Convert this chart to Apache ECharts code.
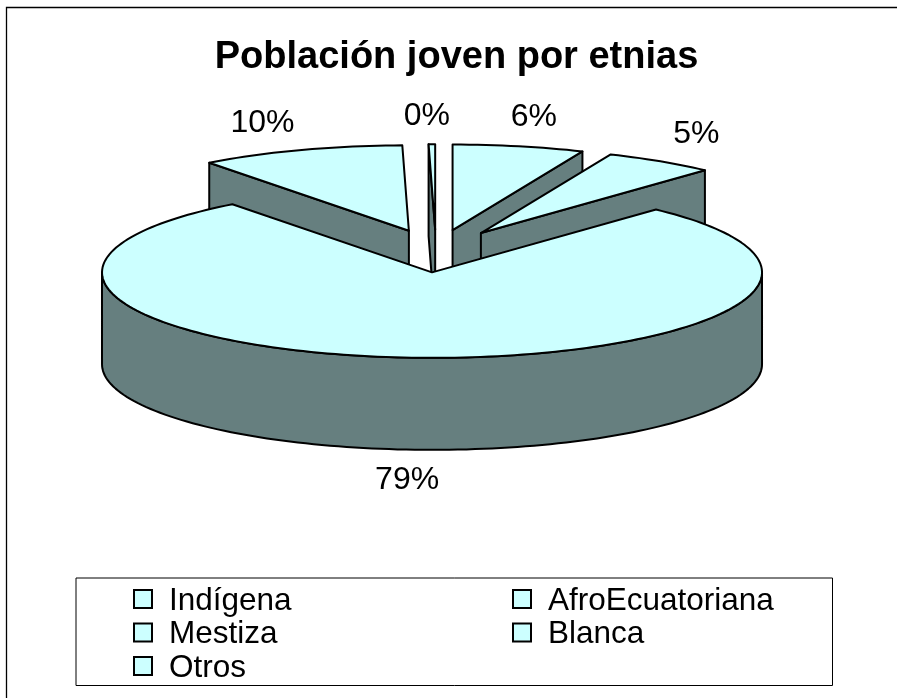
<!DOCTYPE html>
<html><head><meta charset="utf-8">
<style>html,body{margin:0;padding:0;background:#fff}#c{width:897px;height:698px}</style>
<script src="https://cdn.jsdelivr.net/npm/echarts@6/dist/echarts.min.js"></script>
</head><body><div id="c"></div>
<script>
const categories = ['Indígena', 'AfroEcuatoriana', 'Mestiza', 'Blanca', 'Otros'];
const values = [6.45, 5.45, 78.5, 9.5, 0.3];
const titleText = 'Población joven por etnias';
const leftLegend = ['Indígena', 'Mestiza', 'Otros'];
const rightLegend = ['AfroEcuatoriana', 'Blanca'];

const TOP = '#CCFFFF', SIDE = '#667F7F', LINE = '#000000', LW = 2;
const FONT = '"Liberation Sans", Arial, sans-serif';
const CX = 436, CY = 251, RX = 330, RY = 85.5, DEPTH = 92, EXPLODE = 0.25;
const labelOffsets = [[15, -29], [36, -27], [-9, 30], [-38, -27], [-5, -28]];
const paintOrder = [0, 1, 3, 4, 2];

const total = values.reduce((a, b) => a + b, 0);
const warp = a => a + 3.5 * Math.min(0, Math.sin(a * Math.PI / 180));
const spans = [];
values.reduce((acc, v) => { const e = acc + v / total * 360; spans.push([warp(acc), warp(e)]); return e; }, 0);
const rad = d => d * Math.PI / 180;
function pt(apex, a, dy) {
  return [apex[0] + RX * Math.sin(rad(a)), apex[1] - RY * Math.cos(rad(a)) + (dy || 0)];
}
function arc(apex, a0, a1, dy) {
  const n = Math.max(2, Math.ceil(Math.abs(a1 - a0) / 1.5)), out = [];
  for (let i = 0; i <= n; i++) out.push(pt(apex, a0 + (a1 - a0) * i / n, dy));
  return out;
}
function poly(points, fill) {
  return { type: 'polygon', shape: { points }, style: { fill, stroke: LINE, lineWidth: LW, lineJoin: 'round' } };
}
function sliceRender(i) {
  return function () {
    const [a0, a1] = spans[i], mid = (a0 + a1) / 2;
    const apex = [CX + EXPLODE * RX * Math.sin(rad(mid)), CY - EXPLODE * RY * Math.cos(rad(mid))];
    const apexLow = [apex[0], apex[1] + DEPTH];
    const children = [];
    if (Math.sin(rad(a0)) < -1e-6) children.push(poly([pt(apex, a0), apex, apexLow, pt(apex, a0, DEPTH)], SIDE));
    if (Math.sin(rad(a1)) > 1e-6) children.push(poly([pt(apex, a1), apex, apexLow, pt(apex, a1, DEPTH)], SIDE));
    const f0 = Math.max(a0, 90), f1 = Math.min(a1, 270);
    if (f1 > f0) {
      const up = arc(apex, f0, f1), low = arc(apex, f0, f1, DEPTH).reverse();
      children.push(poly(up.concat(low), SIDE));
    }
    children.push(poly([apex].concat(arc(apex, a0, a1)), TOP));
    const isFront = mid > 90 && mid < 270;
    const m = pt(apex, mid, isFront ? DEPTH : 0);
    children.push({
      type: 'text', z2: 10,
      style: {
        text: Math.round(values[i]) + '%', x: m[0] + labelOffsets[i][0], y: m[1] + labelOffsets[i][1],
        align: 'center', verticalAlign: 'middle', fill: '#000', font: '32px ' + FONT
      }
    });
    return { type: 'group', children };
  };
}
const legendBase = {
  orient: 'vertical', icon: 'rect', itemWidth: 18, itemHeight: 18,
  padding: 0, selectedMode: false,
  itemStyle: { borderColor: LINE, borderWidth: 2 },
  formatter: n => '{t|' + n + '}',
  textStyle: {
    rich: { t: { fontFamily: FONT, fontSize: 31.5, lineHeight: 33, color: '#000', padding: [4, 0, 0, 12] } }
  }
};
const legendColumn = (names, left) => names.map((n, j) =>
  Object.assign({}, legendBase, { left, top: 581 + 33.5 * j, data: [n] }));
const chart = echarts.init(document.getElementById('c'), null, { renderer: 'canvas' });
chart.setOption({
  animation: false,
  backgroundColor: '#fff',
  title: {
    text: titleText, left: 456.5, top: 39, textAlign: 'center', padding: 0,
    textStyle: { fontFamily: FONT, fontWeight: 'bold', fontSize: 38, color: '#000' }
  },
  legend: legendColumn(leftLegend, 133).concat(legendColumn(rightLegend, 512)),
  graphic: [
    { type: 'polyline', z: -10, shape: { points: [[6.5, 698], [6.5, 7.5], [897, 7.5]] }, style: { fill: null, stroke: '#000', lineWidth: 1.3 } },
    { type: 'rect', z: -9, shape: { x: 76, y: 578, width: 756.5, height: 107.5 }, style: { fill: '#fff', stroke: '#000', lineWidth: 1 } }
  ],
  series: paintOrder.map(i => ({
    type: 'custom', name: categories[i], coordinateSystem: 'none', silent: true,
    itemStyle: { color: TOP }, data: [[values[i]]], renderItem: sliceRender(i), z: 2
  }))
});
</script></body></html>
